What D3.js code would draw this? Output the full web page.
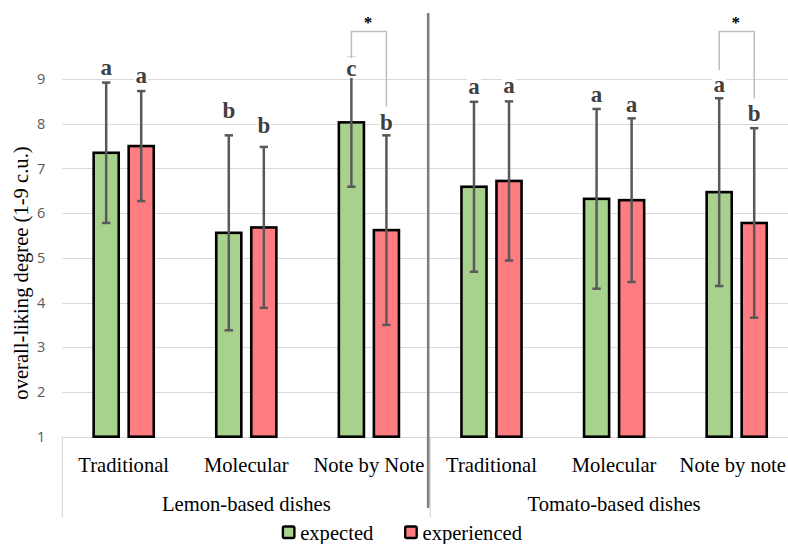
<!DOCTYPE html>
<html>
<head>
<meta charset="utf-8">
<script src="https://cdn.jsdelivr.net/npm/d3@7"></script>
<style>
  body { margin: 0; background: #fff; }
  svg { display: block; }
</style>
</head>
<body>
<svg id="chart" width="788" height="544"></svg>
<script>

// groups and dishes (multi-level category axis)
const groups = ["Lemon-based dishes", "Tomato-based dishes"];
const dishes = ["Traditional", "Molecular", "Note by Note", "Traditional", "Molecular", "Note by note"];
const dishGroup = [0, 0, 0, 1, 1, 1];

const series = ["expected", "experienced"];
const expected = [7.35, 5.56, 8.03, 6.59, 6.32, 6.47];
const experienced = [7.50, 5.68, 5.62, 6.72, 6.29, 5.78];
const expectedSd = [1.57, 2.18, 1.44, 1.90, 2.01, 2.10];
const experiencedSd = [1.23, 1.80, 2.12, 1.78, 1.83, 2.12];

// significance letters and where they were put (in y units)
const expectedLetters = ["a", "b", "c", "a", "a", "a"];
const experiencedLetters = ["a", "b", "b", "a", "a", "b"];
const expectedLetterAt = [9.09, 8.12, 9.07, 8.66, 8.49, 8.72];
const experiencedLetterAt = [8.91, 7.80, 7.86, 8.68, 8.27, 8.05];

// paired comparisons marked with *
const sigDish = [2, 5];
const sigLeftEnd = [9.47, 9.20];
const sigRightEnd = [8.38, 8.57];
const sigTop = 10.06;

const yTicks = [1, 2, 3, 4, 5, 6, 7, 8, 9];

const colors = {expected: "#a9d18e", experienced: "#ff7c80"};

const svg = d3.select("#chart");
const serif = "'Liberation Serif', 'Times New Roman', serif";
const labelSize = "20.6px";

svg.append("rect").attr("width", 788).attr("height", 544).attr("fill", "#fff");

let plotLeft = 62.4, plotRight = 798;

let x0 = d3.scaleBand()
    .domain(d3.range(dishes.length))
    .range([plotLeft, plotRight]);

let x1 = d3.scaleBand()
    .domain(series)
    .range([0, x0.bandwidth()])
    .paddingInner(0.21)
    .paddingOuter(0.855);

let y = d3.scaleLinear()
    .domain([1, 9])
    .range([436.7, 79]);

// gridlines
svg.append("g")
    .selectAll("line")
    .data(yTicks)
    .enter()
    .append("line")
    .attr("x1", plotLeft)
    .attr("x2", plotRight)
    .attr("y1", d => Math.round(y(d)) + 0.5)
    .attr("y2", d => Math.round(y(d)) + 0.5)
    .attr("stroke", "#d9d9d9")
    .attr("stroke-width", 1.2);

// y axis labels (no axis line, just the numbers)
let yAxis = d3.axisLeft(y)
    .tickValues(yTicks)
    .tickSize(0)
    .tickPadding(17)
    .tickFormat(d3.format("d"));

let yg = svg.append("g")
    .attr("transform", `translate(${plotLeft},0)`)
    .call(yAxis);
yg.select(".domain").remove();
yg.selectAll("text")
    .attr("fill", "#595959")
    .style("font-family", "'Open Sans', 'Liberation Sans', sans-serif")
    .style("font-size", "14.5px");

svg.append("text")
    .attr("transform", "translate(28,273) rotate(-90)")
    .attr("text-anchor", "middle")
    .style("font-family", serif)
    .style("font-size", labelSize)
    .attr("fill", "#000")
    .text("overall-liking degree (1-9 c.u.)");

// category axis boxes
let groupEdges = [plotLeft, x0(3), plotRight];
svg.append("g")
    .selectAll("line")
    .data(groupEdges)
    .enter()
    .append("line")
    .attr("x1", d => d)
    .attr("x2", d => d)
    .attr("y1", y(1))
    .attr("y2", 517)
    .attr("stroke", "#d9d9d9")
    .attr("stroke-width", 1.2);

let dishLabels = svg.append("g")
    .selectAll("text")
    .data(dishes)
    .enter()
    .append("text")
    .attr("x", (d, i) => x0(i) + x0.bandwidth() / 2)
    .attr("y", 471.7)
    .attr("text-anchor", "middle")
    .style("font-family", serif)
    .style("font-size", labelSize)
    .text(d => d);

// the plot runs past the right edge; keep the last label inside the picture
dishLabels.each(function(){
    let b = this.getBBox();
    if(b.x + b.width > 786){
        d3.select(this).attr("x", +d3.select(this).attr("x") - (b.x + b.width - 786));
    }
});

svg.append("g")
    .selectAll("text")
    .data(groups)
    .enter()
    .append("text")
    .attr("x", (d, i) => (groupEdges[i] + groupEdges[i + 1]) / 2)
    .attr("y", 510.7)
    .attr("text-anchor", "middle")
    .style("font-family", serif)
    .style("font-size", labelSize)
    .text(d => d);

// bars
let records = [];
dishes.forEach(function(dish, i){
    records.push({i: i, s: "expected", v: expected[i], sd: expectedSd[i],
                  letter: expectedLetters[i], at: expectedLetterAt[i]});
    records.push({i: i, s: "experienced", v: experienced[i], sd: experiencedSd[i],
                  letter: experiencedLetters[i], at: experiencedLetterAt[i]});
});

const sw = 2.6;
let cx = d => x0(d.i) + x1(d.s) + x1.bandwidth() / 2;

svg.append("g")
    .selectAll("rect")
    .data(records)
    .enter()
    .append("rect")
    .attr("x", d => x0(d.i) + x1(d.s) + sw / 2)
    .attr("width", x1.bandwidth() - sw)
    .attr("y", d => y(d.v))
    .attr("height", d => y(1) - y(d.v))
    .attr("fill", d => colors[d.s])
    .attr("stroke", "#000")
    .attr("stroke-width", sw);

// error bars
let eb = svg.append("g")
    .attr("stroke", "#595959")
    .attr("stroke-width", 2.5);

records.forEach(function(d){
    let c = cx(d), top = y(d.v + d.sd), bot = y(d.v - d.sd);
    eb.append("line").attr("x1", c).attr("x2", c).attr("y1", top).attr("y2", bot);
    eb.append("line").attr("x1", c - 4.2).attr("x2", c + 4.2).attr("y1", top).attr("y2", top);
    eb.append("line").attr("x1", c - 4.2).attr("x2", c + 4.2).attr("y1", bot).attr("y2", bot);
});

// letter labels, in white text boxes
let lg = svg.append("g");
records.forEach(function(d){
    let t = lg.append("text")
        .attr("x", cx(d))
        .attr("y", y(d.at))
        .attr("text-anchor", "middle")
        .style("font-family", serif)
        .style("font-size", "23px")
        .style("font-weight", "bold")
        .attr("fill", "#404040")
        .text(d.letter);
    let w = t.node().getBBox().width;
    lg.insert("rect", function(){ return t.node(); })
        .attr("x", cx(d) - w / 2 - 1)
        .attr("width", w + 2)
        .attr("y", y(d.at) - 19)
        .attr("height", 21)
        .attr("fill", "#fff");
});

// brackets with asterisks
let bg = svg.append("g");
sigDish.forEach(function(i, k){
    let xl = x0(i) + x1("expected") + x1.bandwidth() / 2,
        xr = x0(i) + x1("experienced") + x1.bandwidth() / 2;
    bg.append("path")
        .attr("d", `M${xl},${y(sigLeftEnd[k])}V${y(sigTop)}H${xr}V${y(sigRightEnd[k])}`)
        .attr("fill", "none")
        .attr("stroke", "#bfbfbf")
        .attr("stroke-width", 1.5);
    bg.append("text")
        .attr("x", (xl + xr) / 2 - 1)
        .attr("y", y(sigTop) - 4)
        .attr("text-anchor", "middle")
        .style("font-family", serif)
        .style("font-size", "17px")
        .style("font-weight", "bold")
        .text("*");
});

// separator between the two groups
svg.append("line")
    .attr("x1", x0(3) - 2)
    .attr("x2", x0(3) - 2)
    .attr("y1", 13)
    .attr("y2", 508)
    .attr("stroke", "#808080")
    .attr("stroke-width", 2.6);

// legend
let legendX = [281.7, 404];
let leg = svg.append("g");
series.forEach(function(s, k){
    leg.append("rect")
        .attr("x", legendX[k] + 1.2)
        .attr("y", 526.5)
        .attr("width", 11.5)
        .attr("height", 11.5)
        .attr("rx", 1.5)
        .attr("fill", colors[s])
        .attr("stroke", "#000")
        .attr("stroke-width", 2.4);
    leg.append("text")
        .attr("x", legendX[k] + 18.5)
        .attr("y", 540)
        .style("font-family", serif)
        .style("font-size", labelSize)
        .text(s);
});

</script>
</body>
</html>
